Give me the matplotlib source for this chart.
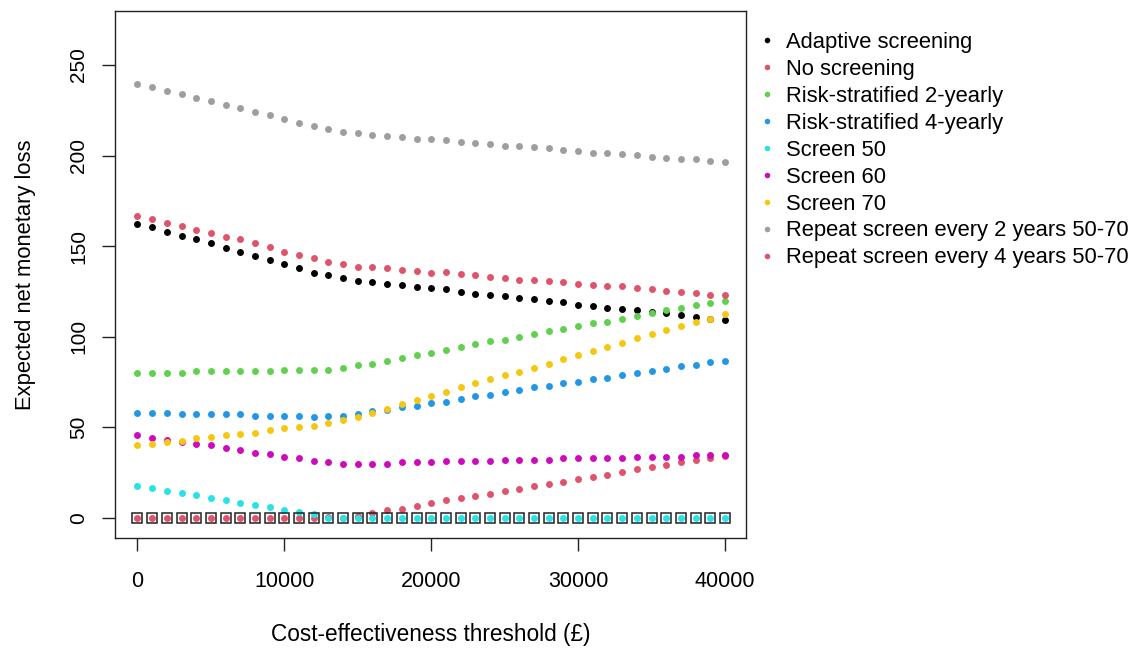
import matplotlib
matplotlib.use("Agg")
import matplotlib.pyplot as plt
import numpy as np

plt.rcParams['font.family'] = ['Liberation Sans', 'DejaVu Sans']

thresholds = np.arange(0, 40001, 1000)

adaptive = [162.1, 160.4, 158.0, 155.6, 154.0, 151.6, 149.2, 147.0, 144.6, 142.4,
            140.2, 137.8, 135.4, 133.9, 132.3, 130.8, 130.1, 129.3, 128.6, 127.7,
            126.9, 126.2, 124.7, 123.8, 123.1, 122.3, 121.4, 120.7, 119.9, 119.2,
            117.5, 116.8, 116.1, 115.3, 114.6, 113.9, 113.0, 112.2, 110.8, 110.0,
            109.1]
no_screen = [0, 0, 0, 0, 0, 0, 0, 0, 0, 0,
             0, 0, 0, 0.4, 0.3, 0.9, 3.0, 4.4, 5.2, 6.8,
             8.1, 9.8, 10.8, 12.1, 13.5, 14.8, 15.8, 17.5, 18.9, 19.7,
             21.4, 22.8, 23.6, 25.2, 26.9, 28.3, 29.1, 30.7, 32.2, 32.9,
             34.0]
risk_2y = [80.2, 80.2, 80.2, 80.2, 81.1, 81.1, 81.1, 81.1, 81.1, 81.1,
           81.9, 81.9, 81.9, 81.9, 82.6, 84.3, 85.0, 86.6, 88.1, 89.8,
           91.2, 92.9, 94.4, 95.9, 97.5, 98.2, 99.9, 101.4, 103.0, 104.5,
           106.0, 107.6, 108.3, 110.0, 111.5, 113.1, 114.6, 116.1, 117.7, 118.5,
           119.9]
risk_4y = [58.0, 58.0, 58.0, 57.2, 57.2, 57.2, 57.2, 57.2, 56.5, 56.5,
           56.5, 56.5, 55.6, 56.5, 56.5, 57.2, 58.9, 59.6, 61.1, 62.0,
           63.5, 64.2, 65.8, 67.3, 68.0, 69.7, 70.5, 72.1, 72.8, 74.3,
           75.1, 76.7, 77.4, 79.1, 79.8, 81.3, 82.2, 83.7, 84.4, 85.9,
           86.8]
screen_50 = [17.5, 16.7, 15.1, 13.6, 12.7, 11.3, 10.1, 8.1, 7.2, 5.9,
             4.4, 3.5, 2.2, 0, 0, 0, 0, 0, 0, 0,
             0, 0, 0, 0, 0, 0, 0, 0, 0, 0,
             0, 0, 0, 0, 0, 0, 0, 0, 0, 0,
             0]
screen_60 = [45.6, 44.0, 43.2, 41.8, 40.8, 40.1, 38.5, 37.7, 36.0, 35.3,
             33.8, 33.1, 31.5, 30.7, 30.0, 30.0, 30.0, 30.0, 30.7, 30.7,
             30.7, 31.5, 31.5, 31.5, 31.5, 32.2, 32.2, 32.2, 32.2, 32.9,
             32.9, 32.9, 32.9, 32.9, 33.8, 33.8, 33.8, 33.8, 34.6, 34.6,
             34.6]
screen_70 = [40.1, 41.0, 41.8, 42.5, 44.0, 44.9, 45.6, 46.4, 47.1, 48.6,
             49.5, 50.2, 50.9, 52.6, 54.1, 55.6, 58.0, 60.3, 62.7, 65.1,
             67.5, 69.7, 72.1, 74.3, 76.7, 78.9, 80.4, 82.8, 85.2, 87.6,
             89.8, 92.2, 94.4, 96.7, 99.2, 101.4, 103.8, 106.1, 108.3, 109.8,
             112.4]
repeat_2y = [239.7, 238.0, 235.6, 234.2, 231.8, 230.3, 227.9, 226.5, 224.1, 222.4,
             220.2, 217.8, 216.3, 214.7, 213.2, 212.3, 211.6, 210.8, 210.1, 209.4,
             209.4, 208.4, 207.7, 207.0, 206.2, 205.5, 205.5, 204.7, 204.0, 203.3,
             202.5, 201.6, 201.6, 200.9, 200.2, 199.4, 198.7, 197.9, 197.9, 197.2,
             196.5]
repeat_4y = [166.8, 165.2, 162.8, 161.3, 158.9, 157.5, 155.1, 154.0, 151.8, 149.4,
             147.0, 145.0, 143.3, 141.1, 140.2, 138.7, 138.7, 137.8, 137.0, 136.3,
             135.5, 135.6, 134.8, 133.9, 133.2, 132.5, 131.5, 131.5, 130.8, 130.1,
             129.3, 128.6, 127.8, 127.8, 126.9, 126.2, 125.4, 124.7, 124.0, 123.2,
             123.2]

strategies = ['Adaptive screening', 'No screening', 'Risk-stratified 2-yearly',
              'Risk-stratified 4-yearly', 'Screen 50', 'Screen 60', 'Screen 70',
              'Repeat screen every 2 years 50-70', 'Repeat screen every 4 years 50-70']
series = [adaptive, no_screen, risk_2y, risk_4y, screen_50, screen_60, screen_70,
          repeat_2y, repeat_4y]
# R 4.x default palette, recycled for the ninth strategy
colours = ['black', '#DF536B', '#61D04F', '#2297E6', '#28E2E5', '#CD0BBC',
           '#F5C710', '#9E9E9E', '#DF536B']

fig = plt.figure(figsize=(11.36, 6.53), dpi=100)
W, H = 1136, 653
ax = fig.add_axes([115 / W, (H - 538) / H, 631 / W, 527 / H])

for vals, col in zip(series, colours):
    ax.plot(thresholds, vals, 'o', color=col, markersize=5.0, markeredgewidth=0)

# optimal strategy at each threshold has zero loss
best = np.min(np.array(series), axis=0)
ax.plot(thresholds, best, 's', markersize=7.4, markerfacecolor='none',
        markeredgecolor='#222222', markeredgewidth=1.1)

ax.set_xlim(-1530, 41430)
ax.set_ylim(-11.0, 279.8)
ax.set_xticks(np.arange(0, 40001, 10000))
ax.set_yticks(np.arange(0, 251, 50))
ax.set_xticklabels([str(v) for v in range(0, 40001, 10000)], fontsize=15.5)
ax.set_yticklabels([str(v) for v in range(0, 251, 50)], rotation=90,
                   va='center', fontsize=15)
ax.tick_params(axis='both', direction='out', length=9.4, width=1, color='#222222')
ax.tick_params(axis='x', pad=14.5)
ax.tick_params(axis='y', pad=10)
for s in ax.spines.values():
    s.set_linewidth(1)
    s.set_color('#222222')

ax.set_xlabel('Cost-effectiveness threshold (£)', fontsize=16.3, labelpad=22.5)
ax.set_ylabel('Expected net monetary loss', fontsize=15.8, labelpad=24)

handles = [plt.Line2D([], [], marker='o', linestyle='none', color=c,
                      markersize=4, markeredgewidth=0) for c in colours]
fig.legend(handles, strategies, loc='upper left', bbox_to_anchor=(760 / W, 1 - 32 / H),
           frameon=False, fontsize=15.8, handlelength=0.6, handletextpad=0.6,
           labelspacing=0.27, borderpad=0, borderaxespad=0)

fig.savefig('out.png', dpi=100)
